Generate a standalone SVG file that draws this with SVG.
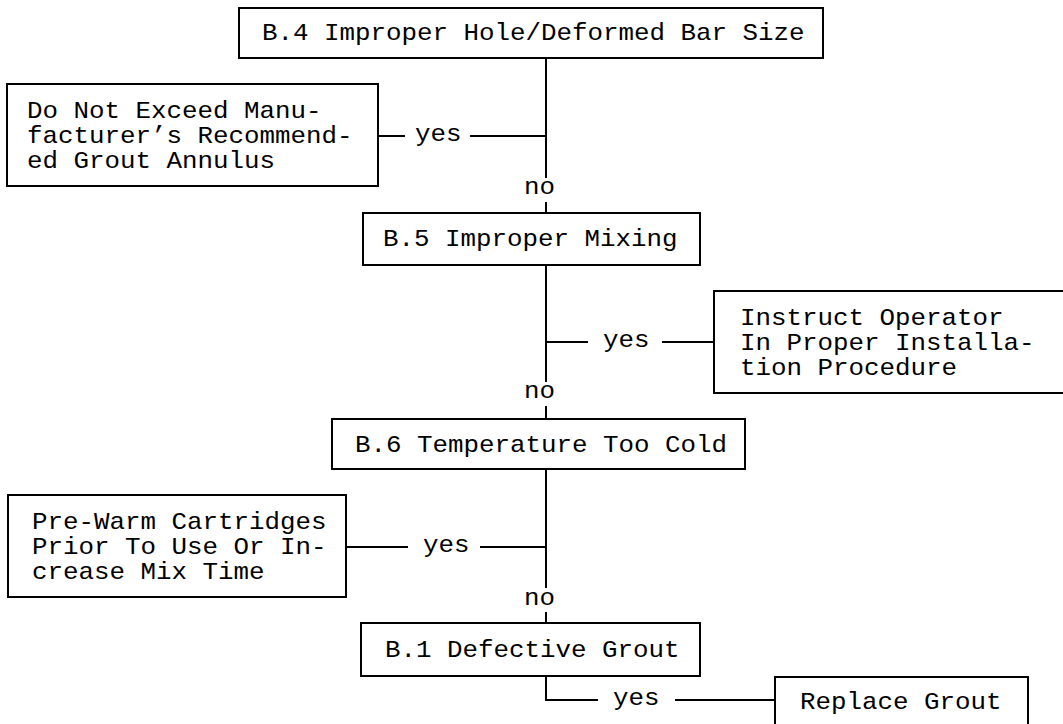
<svg xmlns="http://www.w3.org/2000/svg" width="1063" height="724" viewBox="0 0 1063 724">
<style>
rect{fill:#fff;stroke:#000;stroke-width:2}
.c line,.c path{stroke:#000;stroke-width:2;fill:none}
text{font-family:"Liberation Mono","Courier New",monospace;font-size:24px;fill:#000}
</style>
<rect x="0" y="0" width="1063" height="724" style="stroke:none"/>
<g class="c" id="connectors">
<line x1="546" y1="58" x2="546" y2="178"/>
<line x1="546" y1="202" x2="546" y2="213"/>
<line x1="378" y1="136" x2="405" y2="136"/>
<line x1="470" y1="136" x2="546" y2="136"/>
<line x1="546" y1="265" x2="546" y2="382"/>
<line x1="546" y1="406" x2="546" y2="419"/>
<line x1="546" y1="342" x2="588" y2="342"/>
<line x1="662" y1="342" x2="714" y2="342"/>
<line x1="546" y1="469" x2="546" y2="588"/>
<line x1="546" y1="612" x2="546" y2="623"/>
<line x1="346" y1="547" x2="408" y2="547"/>
<line x1="480" y1="547" x2="546" y2="547"/>
<path d="M546 676 V700 H598"/>
<line x1="675" y1="700" x2="775" y2="700"/>
<text x="415" y="141" textLength="46.5" lengthAdjust="spacingAndGlyphs">yes</text>
<text x="524" y="194" textLength="31" lengthAdjust="spacingAndGlyphs">no</text>
<text x="603" y="347" textLength="46.5" lengthAdjust="spacingAndGlyphs">yes</text>
<text x="524" y="398" textLength="31" lengthAdjust="spacingAndGlyphs">no</text>
<text x="423" y="552" textLength="46.5" lengthAdjust="spacingAndGlyphs">yes</text>
<text x="524" y="605" textLength="31" lengthAdjust="spacingAndGlyphs">no</text>
<text x="613" y="705" textLength="46.5" lengthAdjust="spacingAndGlyphs">yes</text>
</g>
<g id="b4">
<rect x="239" y="8" width="584" height="50"/>
<text x="262" y="40" textLength="542.5" lengthAdjust="spacingAndGlyphs">B.4 Improper Hole/Deformed Bar Size</text>
</g>
<g id="annulus">
<rect x="7" y="84" width="371" height="102"/>
<text x="27" y="118" textLength="294.5" lengthAdjust="spacingAndGlyphs">Do Not Exceed Manu-</text>
<text x="27" y="143" textLength="325.5" lengthAdjust="spacingAndGlyphs">facturer’s Recommend-</text>
<text x="27" y="168" textLength="248" lengthAdjust="spacingAndGlyphs">ed Grout Annulus</text>
</g>
<g id="b5">
<rect x="363" y="213" width="337" height="52"/>
<text x="383" y="246" textLength="294.5" lengthAdjust="spacingAndGlyphs">B.5 Improper Mixing</text>
</g>
<g id="instruct">
<rect x="714" y="291" width="352" height="102"/>
<text x="740" y="325" textLength="263.5" lengthAdjust="spacingAndGlyphs">Instruct Operator</text>
<text x="740" y="350" textLength="294.5" lengthAdjust="spacingAndGlyphs">In Proper Installa-</text>
<text x="740" y="375" textLength="217" lengthAdjust="spacingAndGlyphs">tion Procedure</text>
</g>
<g id="b6">
<rect x="332" y="419" width="413" height="50"/>
<text x="355" y="452" textLength="372" lengthAdjust="spacingAndGlyphs">B.6 Temperature Too Cold</text>
</g>
<g id="prewarm">
<rect x="8" y="495" width="338" height="102"/>
<text x="32" y="529" textLength="294.5" lengthAdjust="spacingAndGlyphs">Pre-Warm Cartridges</text>
<text x="32" y="554" textLength="294.5" lengthAdjust="spacingAndGlyphs">Prior To Use Or In-</text>
<text x="32" y="579" textLength="232.5" lengthAdjust="spacingAndGlyphs">crease Mix Time</text>
</g>
<g id="b1">
<rect x="361" y="623" width="339" height="53"/>
<text x="385" y="657" textLength="294.5" lengthAdjust="spacingAndGlyphs">B.1 Defective Grout</text>
</g>
<g id="replace">
<rect x="775" y="677" width="253" height="60"/>
<text x="800" y="709" textLength="201.5" lengthAdjust="spacingAndGlyphs">Replace Grout</text>
</g>
</svg>
